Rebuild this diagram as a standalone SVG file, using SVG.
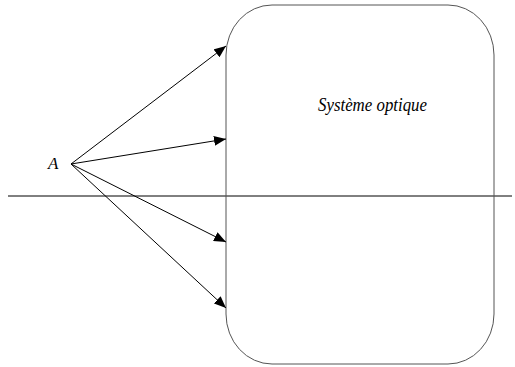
<svg xmlns="http://www.w3.org/2000/svg" width="515" height="367" viewBox="0 0 515 367">
  <style>
    .ray { stroke: #000; stroke-width: 1; fill: none; marker-end: url(#head); }
    .lbl { font-family: "Liberation Serif", serif; font-style: italic; fill: #000; }
  </style>
  <defs>
    <marker id="head" viewBox="0 0 12 10" refX="12" refY="5" markerWidth="12" markerHeight="10" markerUnits="userSpaceOnUse" orient="auto">
      <path d="M0,0 L12,5 L0,10 Z" fill="#000"/>
    </marker>
  </defs>
  <rect width="515" height="367" fill="#fff"/>
  <!-- optical axis -->
  <line x1="8" y1="196" x2="512" y2="196" stroke="#000" stroke-width="1"/>
  <g id="system">
    <rect x="226" y="5" width="268" height="359" rx="46" ry="50" fill="none" stroke="#555" stroke-width="1"/>
    <text class="lbl" x="318" y="111" font-size="18" font-family="Liberation Serif, serif" textLength="109" lengthAdjust="spacingAndGlyphs">Système optique</text>
  </g>
  <g id="source">
    <text class="lbl" x="48" y="169" font-size="17" font-family="Liberation Serif, serif">A</text>
  </g>
  <g id="rays">
    <line class="ray" x1="71" y1="164" x2="226" y2="46"/>
    <line class="ray" x1="71" y1="164" x2="226" y2="139"/>
    <line class="ray" x1="71" y1="164" x2="226" y2="242"/>
    <line class="ray" x1="71" y1="164" x2="226" y2="308"/>
  </g>
</svg>
